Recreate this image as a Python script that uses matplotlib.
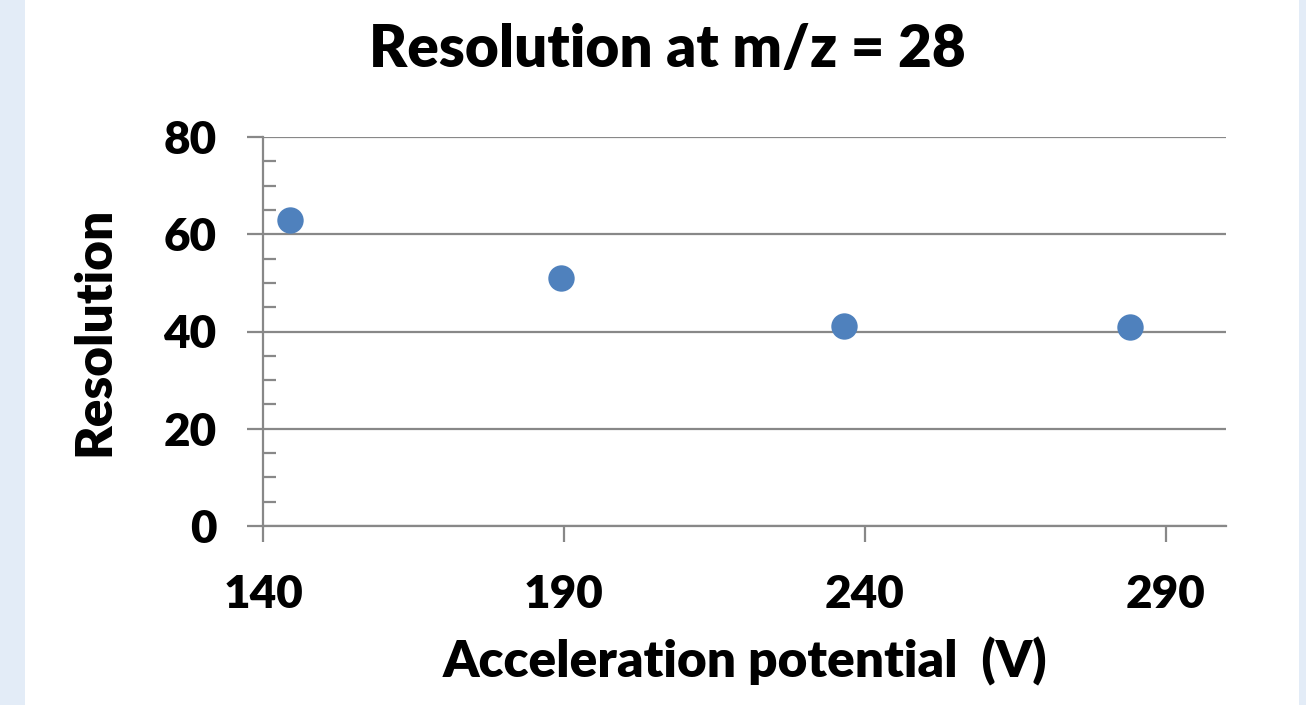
import matplotlib.pyplot as plt
from matplotlib.patches import FancyBboxPatch
from matplotlib.ticker import MultipleLocator

# data
voltage = [144.5, 189.5, 236.5, 284]
resolution = [63, 51, 41.2, 41]

x_ticks = [140, 190, 240, 290]
y_ticks = [0, 20, 40, 60, 80]

grey = "#888888"
blue = "#4f81bd"

plt.rcParams['font.family'] = ['Lato', 'DejaVu Sans']
plt.rcParams['font.weight'] = 'heavy'

fig = plt.figure(figsize=(13.06, 7.05), dpi=100)
fig.patch.set_facecolor("#e3ecf7")

# white slide panel with rounded corners
panel = FancyBboxPatch((25 / 1306, -0.05), 1274 / 1306, 1.1,
                       boxstyle="round,pad=0,rounding_size=0.03",
                       transform=fig.transFigure, facecolor="white",
                       edgecolor="none", zorder=-10)
fig.patches.append(panel)

ax = fig.add_axes([263 / 1306, 1 - 526 / 705, (1226 - 263) / 1306, (526 - 137) / 705])
ax.set_facecolor("none")
ax.set_zorder(5)

ax.plot(voltage, resolution, ls="none", marker="o", ms=19, color=blue,
        markeredgewidth=0, zorder=3, clip_on=False)

ax.set_xlim(140, 300)
ax.set_ylim(0, 80)
ax.set_xticks(x_ticks)
ax.set_yticks(y_ticks)
ax.yaxis.set_minor_locator(MultipleLocator(5))

ax.grid(axis="y", color=grey, lw=1.6)
ax.set_axisbelow(True)
for s in ["top", "right"]:
    ax.spines[s].set_visible(False)
for s in ["left", "bottom"]:
    ax.spines[s].set_color(grey)
    ax.spines[s].set_linewidth(1.6)

ax.tick_params(axis="both", which="major", direction="out", length=11.5,
               width=1.6, color=grey, labelsize=33, pad=22)
ax.tick_params(axis="x", pad=23)
ax.tick_params(axis="y", which="minor", direction="in", length=9.5,
               width=1.6, color=grey)

fig.text(667 / 1306, 1 - 67 / 705, "Resolution at m/z = 28", fontsize=42,
         fontweight="heavy", ha="center", va="baseline")
ax.set_xlabel("Acceleration potential  (V)", fontsize=37, fontweight="heavy", labelpad=16)
ax.set_ylabel("Resolution", fontsize=37, fontweight="heavy", labelpad=33)

fig.savefig("out.png", dpi=100, facecolor=fig.get_facecolor())
